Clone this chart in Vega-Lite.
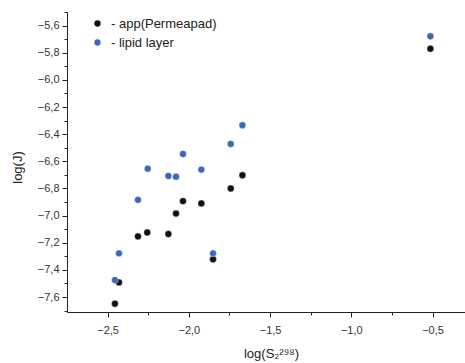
{
  "$schema": "https://vega.github.io/schema/vega-lite/v6.json",
  "autosize": "none",
  "padding": {"left": 67, "top": 12, "right": 0, "bottom": 51},
  "width": 398,
  "height": 300,
  "background": "white",
  "config": {
    "view": {"stroke": null},
    "font": "Liberation Sans",
    "axis": {
      "grid": false,
      "domainColor": "#222",
      "tickColor": "#222",
      "labelColor": "#333",
      "titleColor": "#222",
      "labelFont": "Liberation Sans",
      "titleFont": "Liberation Sans",
      "titleFontWeight": "normal"
    }
  },
  "data": {
    "values": [
      {"s": -2.455, "j": -7.649, "series": "app(Permeapad)"},
      {"s": -2.43, "j": -7.492, "series": "app(Permeapad)"},
      {"s": -2.313, "j": -7.153, "series": "app(Permeapad)"},
      {"s": -2.256, "j": -7.124, "series": "app(Permeapad)"},
      {"s": -2.126, "j": -7.136, "series": "app(Permeapad)"},
      {"s": -2.079, "j": -6.985, "series": "app(Permeapad)"},
      {"s": -2.036, "j": -6.893, "series": "app(Permeapad)"},
      {"s": -1.923, "j": -6.91, "series": "app(Permeapad)"},
      {"s": -1.851, "j": -7.322, "series": "app(Permeapad)"},
      {"s": -1.742, "j": -6.8, "series": "app(Permeapad)"},
      {"s": -1.67, "j": -6.703, "series": "app(Permeapad)"},
      {"s": -0.513, "j": -5.771, "series": "app(Permeapad)"},
      {"s": -2.455, "j": -7.475, "series": "lipid layer"},
      {"s": -2.43, "j": -7.278, "series": "lipid layer"},
      {"s": -2.313, "j": -6.884, "series": "lipid layer"},
      {"s": -2.253, "j": -6.654, "series": "lipid layer"},
      {"s": -2.126, "j": -6.708, "series": "lipid layer"},
      {"s": -2.079, "j": -6.713, "series": "lipid layer"},
      {"s": -2.036, "j": -6.546, "series": "lipid layer"},
      {"s": -1.923, "j": -6.661, "series": "lipid layer"},
      {"s": -1.851, "j": -7.278, "series": "lipid layer"},
      {"s": -1.742, "j": -6.472, "series": "lipid layer"},
      {"s": -1.67, "j": -6.334, "series": "lipid layer"},
      {"s": -0.513, "j": -5.679, "series": "lipid layer"}
    ]
  },
  "resolve": {"axis": {"x": "independent", "y": "independent"}},
  "layer": [
    {
      "mark": {"type": "point", "filled": true, "opacity": 0},
      "encoding": {
        "x": {
          "field": "s", "type": "quantitative",
          "scale": {"domain": [-2.75, -0.3], "nice": false, "zero": false},
          "axis": {
            "orient": "bottom", "values": [-2.25, -1.75, -1.25, -0.75],
            "labels": false, "domain": false, "tickSize": 3, "title": null
          }
        },
        "y": {
          "field": "j", "type": "quantitative",
          "scale": {"domain": [-7.71, -5.5], "nice": false, "zero": false},
          "axis": {
            "orient": "left", "values": [-7.7, -7.5, -7.3, -7.1, -6.9, -6.7, -6.5, -6.3, -6.1, -5.9, -5.7, -5.5],
            "labels": false, "domain": false, "tickSize": 3, "title": null
          }
        }
      }
    },
    {
      "mark": {"type": "circle", "opacity": 1, "size": 48, "stroke": "#ffffff", "strokeWidth": 0.4},
      "encoding": {
        "x": {
          "field": "s", "type": "quantitative",
          "scale": {"domain": [-2.75, -0.3], "nice": false, "zero": false},
          "axis": {
            "orient": "bottom", "values": [-2.5, -2.0, -1.5, -1.0, -0.5],
            "labelExpr": "replace(format(datum.value, '.1f'), '.', ',')",
            "labelFontSize": 11, "labelPadding": 7, "tickSize": 5,
            "title": "log(S₂²⁹⁸)", "titleFontSize": 13, "titlePadding": 12, "titleX": 204
          }
        },
        "y": {
          "field": "j", "type": "quantitative",
          "scale": {"domain": [-7.71, -5.5], "nice": false, "zero": false},
          "axis": {
            "orient": "left", "values": [-7.6, -7.4, -7.2, -7.0, -6.8, -6.6, -6.4, -6.2, -6.0, -5.8, -5.6],
            "labelExpr": "replace(format(datum.value, '.1f'), '.', ',')",
            "labelFontSize": 11, "labelPadding": 3, "tickSize": 5,
            "title": "log(J)", "titleFontSize": 13, "titlePadding": 13, "titleY": 155
          }
        },
        "color": {
          "field": "series", "type": "nominal",
          "scale": {"domain": ["app(Permeapad)", "lipid layer"], "range": ["#111111", "#3d68b3"]},
          "legend": {
            "title": null,
            "orient": "none",
            "legendX": 24,
            "legendY": 5,
            "padding": 0,
            "symbolType": "circle",
            "symbolSize": 40,
            "symbolStrokeWidth": 0,
            "labelExpr": "'- ' + datum.label",
            "labelFontSize": 13,
            "labelColor": "#222",
            "labelFont": "Liberation Sans",
            "labelOffset": 7,
            "rowPadding": 5
          }
        }
      }
    }
  ]
}
